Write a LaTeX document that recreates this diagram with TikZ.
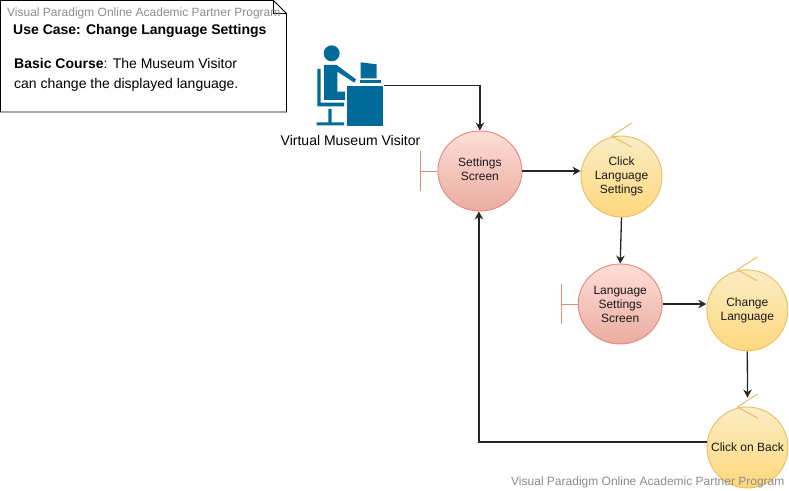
\documentclass[tikz,border=0pt]{standalone}
\usepackage{fontspec}
\setmainfont{Liberation Sans}
\usetikzlibrary{arrows.meta,shapes.geometric}
\definecolor{bluefig}{HTML}{006A9B}
\definecolor{redline}{HTML}{E08A7A}
\definecolor{yelline}{HTML}{E8BE62}
\definecolor{wmark}{HTML}{8C8C8C}
\tikzset{
  base/.style={inner sep=0pt,align=center,draw,line width=0.9pt,
    font=\fontsize{12}{14}\selectfont,text=black!90},
  redc/.style={base,ellipse,minimum width=84pt,minimum height=80pt,draw=redline,
    top color={rgb,255:red,255;green,222;blue,216},bottom color={rgb,255:red,235;green,172;blue,160}},
  yelc/.style={base,circle,minimum size=81pt,draw=yelline,
    top color={rgb,255:red,250;green,236;blue,196},bottom color={rgb,255:red,255;green,216;blue,124}},
  flow/.style={draw=black!85,line width=1.3pt,-{Stealth[length=8pt,width=8.5pt]}},
  bar/.style={draw=redline,line width=1pt},
  chev/.style={draw=yelline,line width=1pt},
  wm/.style={font=\fontsize{12}{14}\selectfont,text=wmark,inner sep=0pt,anchor=base west},
  notetext/.style={font=\fontsize{14}{20}\selectfont,text=black,inner sep=0pt,anchor=base west},
  actorpart/.style={fill=bluefig,draw=none},
}
\begin{document}
\begin{tikzpicture}[x=1pt,y=-1pt]
\useasboundingbox (0,0) rectangle (789,490);
\fill[white] (0,0) rectangle (789,490);
% note
\draw[black,line width=0.9pt,fill=white] (0.5,0.5) -- (273.5,0.5) -- (286.5,13.5) -- (286.5,112) -- (0.5,112) -- cycle;
\draw[black,line width=0.7pt] (273.5,0.5) -- (273.5,13.5) -- (286.5,13.5);
\node[notetext] (title) at (13,34) {\textbf{Use Case: Change Language Settings}};
\node[notetext] (body1) at (14,68.5) {\textbf{Basic Course}: The Museum Visitor};
\node[notetext] (body2) at (14,88.5) {can change the displayed language.};
\node[wm] (wmtop) at (7,16) {Visual Paradigm Online Academic Partner Program};
% actor
\begin{scope}[shift={(300,30)},x=0.3333pt,y=-0.3333pt]
  \fill[actorpart] (95,70) circle (24);
  \fill[actorpart] (72,105) -- (110,105) -- (168,148) -- (163,158) -- (112,125) -- (112,185) -- (135,185) -- (135,210) -- (72,210) -- cycle;
  \fill[actorpart] (52,117) -- (62,117) -- (62,218) -- (132,218) -- (132,229) -- (52,229) -- cycle;
  \fill[actorpart] (85,237) -- (95,237) -- (95,277) -- (132,277) -- (132,286) -- (50,286) -- (50,277) -- (85,277) -- cycle;
  \fill[actorpart] (141,167) rectangle (250,287);
  \fill[actorpart] (182,97) -- (230,103) -- (230,145) -- (182,145) -- cycle;
  \fill[actorpart] (181,150) rectangle (243,160);
\end{scope}
\coordinate (actorport) at (384,85.5);
\node[font=\fontsize{14}{16}\selectfont,text=black,inner sep=0pt] (actorlabel) at (350.5,140) {Virtual Museum Visitor};
% circles
\node[redc] (settings) at (479.9,171) {Settings\\Screen\\[-10pt]{}};
\node[yelc] (click) at (621.5,176.5) {Click\\Language\\Settings};
\node[redc] (langscreen) at (620.2,304) {Language\\Settings\\Screen};
\node[yelc] (change) at (747.3,310.3) {Change\\Language};
\node[yelc] (back) at (747.5,447.5) {Click on Back};
% boundary bars
\draw[bar] (settings.west) -- ++(-16.6,0) coordinate (b1);
\draw[bar] ([yshift=-20pt]b1) -- ([yshift=20pt]b1);
\draw[bar] (langscreen.west) -- ++(-16.6,0) coordinate (b2);
\draw[bar] ([yshift=-20pt]b2) -- ([yshift=20pt]b2);
% control chevrons
\foreach \n in {click,change,back}{
  \draw[chev] ([shift={(10,-12.5)}]\n.north) -- ([shift={(-10,0.5)}]\n.north) -- ([shift={(10,11.5)}]\n.north);
}
% connectors
\draw[flow] (actorport) -| (settings.north);
\draw[flow] (settings.east) -- (click.west |- settings.east);
\draw[flow] (click.south) -- (langscreen.north);
\draw[flow] (langscreen.east) -- (change.west |- langscreen.east);
\draw[flow] (change.south) -- ([yshift=9pt]back.north);
\draw[flow] (back.west |- 0,442) -| ([xshift=-1pt]settings.south);
\node[wm] (wmbot) at (511,485) {Visual Paradigm Online Academic Partner Program};
\end{tikzpicture}
\end{document}
